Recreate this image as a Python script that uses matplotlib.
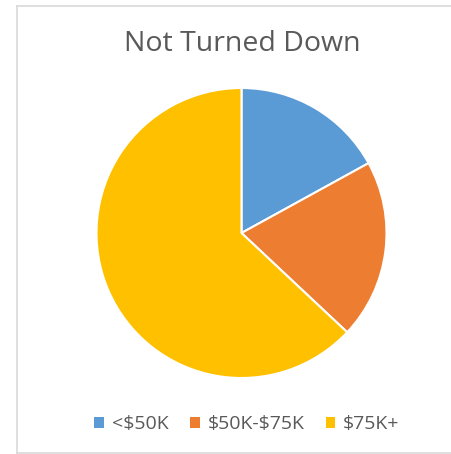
import matplotlib.pyplot as plt
from matplotlib.lines import Line2D
from matplotlib.patches import Patch

labels = ['<$50K', '$50K-$75K', '$75K+']
shares = [17, 20, 63]
colors = ['#5B9BD5', '#ED7D31', '#FFC000']

plt.rcParams['font.family'] = ['Open Sans', 'DejaVu Sans']
plt.rcParams['text.parse_math'] = False

W, H = 452, 454
fig = plt.figure(figsize=(W / 100, H / 100), dpi=100)

# chart area border: top, left and bottom edges (runs off the right side)
x0, y_top, y_bot = 16.5 / W, 1 - 5.5 / H, 1 - 452.5 / H
for xs, ys in [([x0, 1], [y_top, y_top]), ([x0, x0], [y_bot, y_top]),
               ([x0, 1], [y_bot, y_bot])]:
    fig.add_artist(Line2D(xs, ys, transform=fig.transFigure,
                          color='#D9D9D9', linewidth=1.2))

# pie centred at (241.5, 233) px, radius ~145 px
r = 145
ax = fig.add_axes([(241.5 - r) / W, 1 - (233 + r) / H, 2 * r / W, 2 * r / H])
ax.pie(shares, colors=colors, startangle=90, counterclock=False,
       wedgeprops=dict(edgecolor='white', linewidth=1.5))
ax.set_xlim(-1, 1)
ax.set_ylim(-1, 1)
ax.set_aspect('equal')
ax.axis('off')

fig.text(242 / W, 1 - 44 / H, 'Not Turned Down', ha='center', va='center',
         fontsize=20.5, color='#595959')

handles = [Patch(facecolor=c, edgecolor='none') for c in colors]
fig.legend(handles, labels, loc='center', bbox_to_anchor=(247 / W, 1 - 424 / H),
           ncol=3, frameon=False, fontsize=14, handlelength=0.5,
           handleheight=0.5, handletextpad=0.4, columnspacing=1.1,
           labelcolor='#595959')

fig.savefig('out.png', dpi=100)
